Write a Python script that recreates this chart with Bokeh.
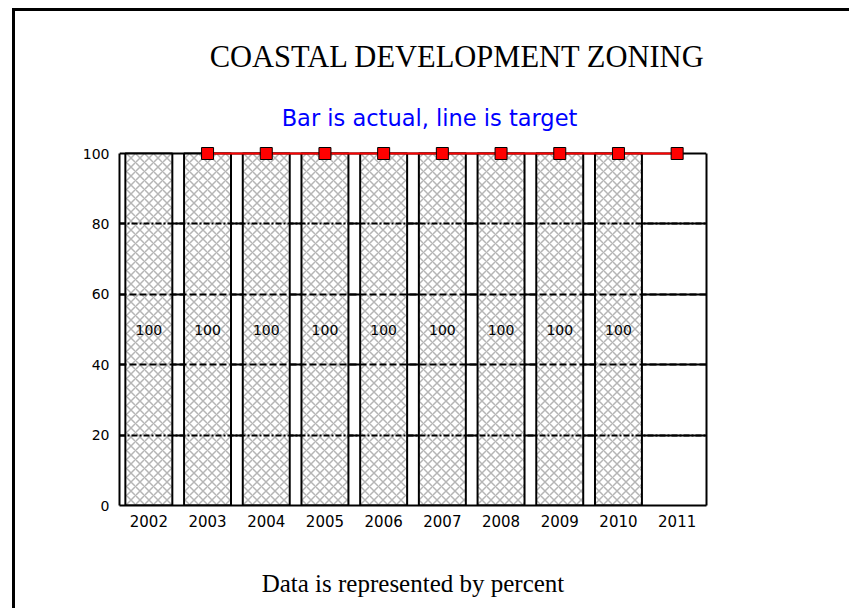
from bokeh.plotting import figure
from bokeh.models import (FactorRange, Range1d, FixedTicker, LinearAxis, Grid,
                          Span, Label, ColumnDataSource)
from bokeh.core.properties import value
from bokeh.embed import file_html
from bokeh.resources import INLINE

# ---- data ----
years = ["2002", "2003", "2004", "2005", "2006", "2007", "2008", "2009", "2010", "2011"]
actual = [100, 100, 100, 100, 100, 100, 100, 100, 100, None]
target = [None, 100, 100, 100, 100, 100, 100, 100, 100, 100]
y_ticks = [0, 20, 40, 60, 80, 100]
title_text = "COASTAL DEVELOPMENT ZONING"
subtitle_text = "Bar is actual, line is target"
footer_text = "Data is represented by percent"

bar_years = [y for y, v in zip(years, actual) if v is not None]
bar_vals = [v for v in actual if v is not None]
bar_src = ColumnDataSource(dict(year=bar_years, val=bar_vals,
                                mid=[v / 2 for v in bar_vals],
                                txt=[str(v) for v in bar_vals]))
tgt_years = [y for y, v in zip(years, target) if v is not None]
tgt_vals = [v for v in target if v is not None]
tgt_src = ColumnDataSource(dict(year=tgt_years, tgt=tgt_vals))

W, H = 849, 608
# frame: x 119..706, y 0..505 ; 100 units = 352 px -> top of frame at 143.47
p = figure(width=W, height=H, x_range=FactorRange(*years), y_range=Range1d(0, 143.47),
           output_backend="svg", toolbar_location=None,
           min_border_left=119, min_border_right=143, min_border_top=0, min_border_bottom=103)
p.outline_line_color = None
p.background_fill_color = None
p.border_fill_color = None
p.title.text = ""
p.styles = {
    "background-color": "white",
    "background-image": "linear-gradient(black, black), linear-gradient(black, black)",
    "background-size": "3px 100%, 100% 3px",
    "background-position": "12px 8px, 12px 8px",
    "background-repeat": "no-repeat",
}

# grids
p.xgrid.visible = False
p.ygrid.ticker = FixedTicker(ticks=[20, 40, 60, 80])
p.ygrid.grid_line_color = "black"
p.ygrid.grid_line_width = 2

# top edge of plot area
p.add_layout(Span(location=100, dimension="width", line_color="black", line_width=2, level="underlay"))

# bars
p.vbar(x="year", top="val", width=0.8, source=bar_src, fill_color="white",
       line_color="black", line_width=2, hatch_pattern="x", hatch_color="#b5b5b5",
       hatch_scale=9, hatch_weight=1.5)

# dashed grid lines over bars
g1 = Grid(dimension=1, ticker=FixedTicker(ticks=[20, 80]), grid_line_color="black",
          grid_line_width=2, grid_line_dash="6 2 2 2", level="overlay")
g2 = Grid(dimension=1, ticker=FixedTicker(ticks=[40, 60]), grid_line_color="black",
          grid_line_width=2, grid_line_dash="7 3", level="overlay")
p.add_layout(g1)
p.add_layout(g2)

# target line
p.line(x="year", y="tgt", source=tgt_src, line_color="red", line_width=2)
p.scatter(x="year", y="tgt", source=tgt_src, marker="square", size=12,
          fill_color="red", line_color="black", line_width=1)

# bar labels
p.text(x="year", y="mid", text="txt", source=bar_src, text_align="center",
       text_baseline="middle", text_font=value("DejaVu Sans"), text_font_size="14px",
       text_color="black")

# axes
p.xaxis.axis_line_color = "black"
p.xaxis.axis_line_width = 2
p.xaxis.major_tick_line_color = None
p.xaxis.minor_tick_line_color = None
p.xaxis.major_tick_out = 0
p.xaxis.major_tick_in = 0
p.xaxis.major_label_text_font = "DejaVu Sans"
p.xaxis.major_label_text_font_size = "15px"
p.xaxis.major_label_text_color = "black"
p.xaxis.major_label_standoff = 9
# footer as the x axis label
p.xaxis.axis_label = footer_text
p.xaxis.axis_label_text_font = "Liberation Serif"
p.xaxis.axis_label_text_font_size = "25px"
p.xaxis.axis_label_text_font_style = "normal"
p.xaxis.axis_label_text_color = "black"
p.xaxis.axis_label_standoff = 40

p.yaxis.ticker = FixedTicker(ticks=y_ticks)
p.yaxis.bounds = (0, 100)
p.yaxis.axis_line_color = "black"
p.yaxis.axis_line_width = 2
p.yaxis.major_tick_line_color = None
p.yaxis.minor_tick_line_color = None
p.yaxis.major_tick_out = 0
p.yaxis.major_tick_in = 0
p.yaxis.major_label_text_font = "DejaVu Sans"
p.yaxis.major_label_text_font_size = "14px"
p.yaxis.major_label_text_color = "black"
p.yaxis.major_label_standoff = 10

rax = LinearAxis(ticker=FixedTicker(ticks=[]), bounds=(0, 100), axis_line_color="black",
                 axis_line_width=2, major_tick_line_color=None, minor_tick_line_color=None,
                 major_tick_out=0, major_tick_in=0)
p.add_layout(rax, "right")

# texts inside the (tall) frame, screen units relative to frame bottom-left
p.add_layout(Label(x=338, y=449, x_units="screen", y_units="screen", text=title_text,
                   text_font="Liberation Serif", text_font_size="30.5px", text_color="black",
                   text_align="center", text_baseline="alphabetic"))
p.add_layout(Label(x=310, y=388, x_units="screen", y_units="screen", text=subtitle_text,
                   text_font="DejaVu Sans", text_font_size="22.5px", text_color="#0000ff",
                   text_align="center", text_baseline="alphabetic"))

open("out.html", "w").write(file_html(p, INLINE))
